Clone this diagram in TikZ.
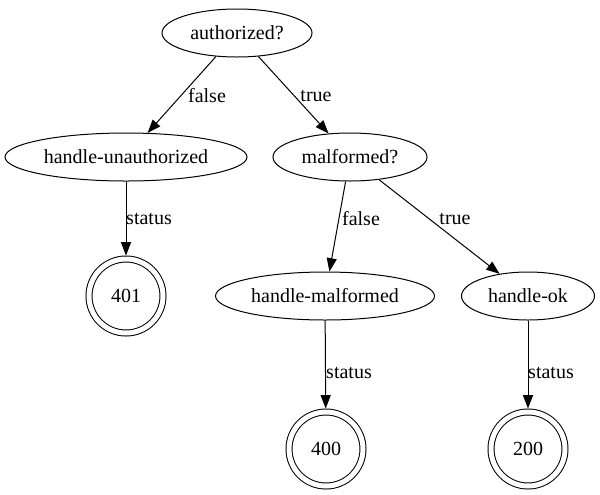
\documentclass[tikz,border=0pt]{standalone}
\usepackage{fontspec}
\setmainfont{Liberation Serif}
\usetikzlibrary{arrows.meta,shapes.geometric}
\begin{document}
\begin{tikzpicture}[x=0.75pt,y=-0.75pt,
  every node/.style={font=\fontsize{15}{17}\selectfont},
  state/.style={ellipse,draw,line width=0.75pt,minimum height=36pt,inner sep=0pt},
  final/.style={circle,draw,line width=0.75pt,double,double distance=3.75pt,minimum size=55.5pt,inner sep=0pt,outer sep=2.6pt},
  edge/.style={line width=0.75pt,-{Triangle[length=10pt,width=7.5pt]}},
  lbl/.style={inner sep=0pt}]
\useasboundingbox (0,0) rectangle (600,494);
\node[state,minimum width=112.5pt] (auth) at (237,33) {authorized?};
\node[state,minimum width=181.5pt] (hun) at (126,157) {handle-unauthorized};
\node[state,minimum width=115.5pt] (mal) at (350,157) {malformed?};
\node[final] (c401) at (126,296) {401};
\node[state,minimum width=164.25pt] (hmal) at (325,296) {handle-malformed};
\node[state,minimum width=99.75pt] (hok) at (528,296) {handle-ok};
\node[final] (c400) at (326,449) {400};
\node[final] (c200) at (528,449) {200};
\draw[edge] (auth) -- (hun);
\draw[edge] (auth) -- (mal);
\draw[edge] (hun) -- (c401);
\draw[edge] (mal) -- (hmal);
\draw[edge] (mal) -- (hok);
\draw[edge] (hmal) -- (c400);
\draw[edge] (hok) -- (c200);
\node[lbl] (l1) at (207,96) {false};
\node[lbl] (l2) at (316,96) {true};
\node[lbl] (l3) at (149,219) {status};
\node[lbl] (l4) at (361,219) {false};
\node[lbl] (l5) at (455,219) {true};
\node[lbl] (l6) at (349,373) {status};
\node[lbl] (l7) at (551,373) {status};
\end{tikzpicture}
\end{document}
